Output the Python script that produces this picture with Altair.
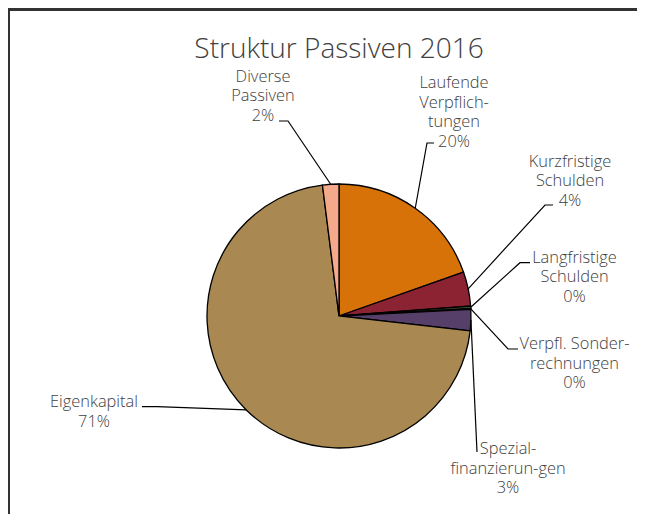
import altair as alt
import pandas as pd
import math

# ---- data ----
names = ["Laufende\nVerpflich-\ntungen", "Kurzfristige\nSchulden", "Langfristige\nSchulden",
         "Verpfl. Sonder-\nrechnungen", "Spezial-\nfinanzierun-gen", "Eigenkapital",
         "Diverse\nPassiven"]
values = [19.6, 4.2, 0.3, 0.1, 2.6, 71.2, 2.0]
colors = ["#D77209", "#8C2332", "#3E5B2B", "#2F4F8F", "#564069", "#A98852", "#F4A98A"]
title_text = "Struktur Passiven 2016"

# ---- layout (page pixel coordinates) ----
CX, CY, R = 339, 316, 132
label_x = [454, 570, 574.5, 574.5, 508, 94, 263]
label_y = [88, 166.5, 262.7, 349.3, 454, 407.3, 81.7]
elbow = [(427, 143), (545, 205), (520, 262.7), (508, 349), (477, 452), (157, 406.7), (288, 121)]
ends = [(434, 143), (553, 205), (530, 262.7), (518, 349), (477, 452), (142, 406.7), (279, 121)]

W, H = 629, 506
OFF = 8

pie_df = pd.DataFrame({"name": names, "value": values, "idx": list(range(len(values)))})

total = sum(values)
lab_rows, line_rows = [], []
cum = 0.0
for i, (n, v) in enumerate(zip(names, values)):
    mid = (cum + v / 2) / total * 2 * math.pi
    cum += v
    ex, ey = CX + R * math.sin(mid), CY - R * math.cos(mid)
    lab_rows.append({"x": label_x[i], "y": label_y[i], "t": f"{n}\n{round(v)}%"})
    for k, (px, py) in enumerate([(ex, ey), elbow[i], ends[i]]):
        line_rows.append({"id": i, "k": k, "x": px, "y": py})
lab_df = pd.DataFrame(lab_rows)
line_df = pd.DataFrame(line_rows)
title_df = pd.DataFrame({"x": [CX], "y": [58], "t": [title_text]})

xs = alt.Scale(domain=[OFF, OFF + W], nice=False, zero=False)
ys = alt.Scale(domain=[OFF, OFF + H], nice=False, zero=False, reverse=True)

pie = alt.Chart(pie_df).mark_arc(outerRadius=R, stroke="black", strokeWidth=1.3).encode(
    theta=alt.Theta("value:Q", stack=True),
    order=alt.Order("idx:Q"),
    color=alt.Color("name:N", scale=alt.Scale(domain=names, range=colors), legend=None),
    x=alt.value(CX - OFF), y=alt.value(CY - OFF),
)

lines = alt.Chart(line_df).mark_line(color="black", strokeWidth=1.2).encode(
    x=alt.X("x:Q", scale=xs, axis=None),
    y=alt.Y("y:Q", scale=ys, axis=None),
    detail="id:N",
    order="k:Q",
)

labels = alt.Chart(lab_df).mark_text(
    align="center", baseline="alphabetic", lineBreak="\n", lineHeight=19.6,
    font="Open Sans", fontSize=16.4, fontWeight=300, color="#404040",
).encode(x=alt.X("x:Q", scale=xs, axis=None), y=alt.Y("y:Q", scale=ys, axis=None), text="t:N")

title = alt.Chart(title_df).mark_text(
    align="center", baseline="alphabetic", font="Open Sans", fontSize=28, fontWeight=300,
    color="#404040",
).encode(x=alt.X("x:Q", scale=xs, axis=None), y=alt.Y("y:Q", scale=ys, axis=None), text="t:N")

top_border = alt.Chart(pie_df).mark_rule(color="#333333", strokeWidth=2).encode(
    x=alt.value(0), x2=alt.value(W), y=alt.value(1.5))
left_border = alt.Chart(pie_df).mark_rule(color="#333333", strokeWidth=2).encode(
    x=alt.value(0.5), y=alt.value(1.5), y2=alt.value(H))

chart = alt.layer(pie, lines, labels, title, top_border, left_border).properties(
    width=W, height=H, padding=0, autosize="none",
).configure_view(stroke=None)

chart.save("out.html", embed_options={"renderer": "svg", "actions": False})
